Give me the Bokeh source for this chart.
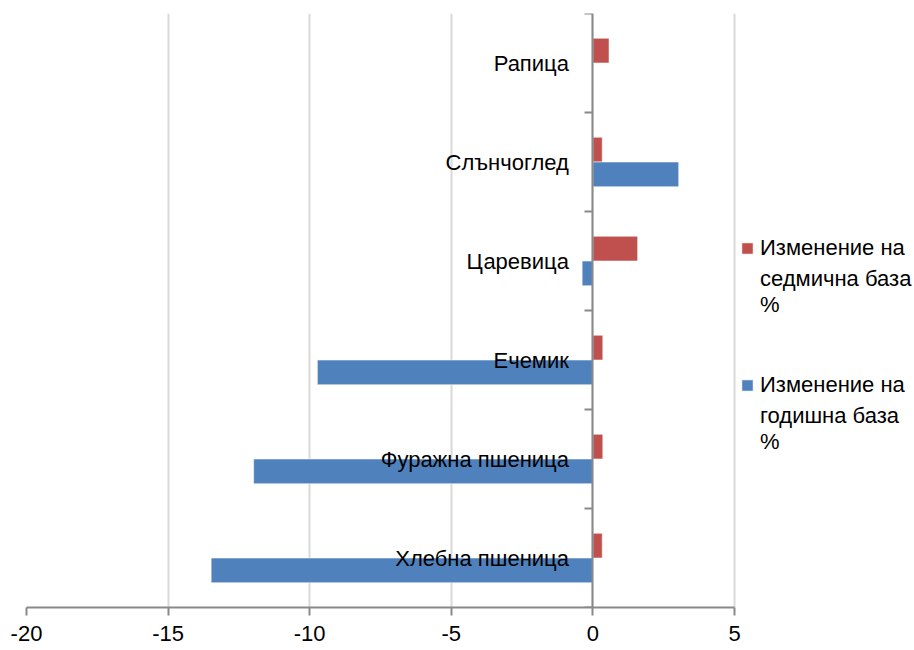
from bokeh.plotting import figure
from bokeh.models import Range1d, FixedTicker, Legend, LegendItem, ColumnDataSource
from bokeh.core.properties import value
from bokeh.transform import dodge
from bokeh.embed import file_html
from bokeh.resources import INLINE

categories = ["Рапица", "Слънчоглед", "Царевица", "Ечемик", "Фуражна пшеница", "Хлебна пшеница"]
weekly = [0.57, 0.33, 1.58, 0.35, 0.35, 0.33]
annual = [0.0, 3.03, -0.38, -9.73, -11.98, -13.48]
x_ticks = [-20, -15, -10, -5, 0, 5]
x_tick_labels = ["-20", "-15", "-10", "-5", "0", "5"]
series_first_line = ["Изменение на", "Изменение на"]
series_rest = ["седмична база\n%", "годишна база\n%"]
colors = ["#C0504D", "#4F81BD"]

FONT = "Liberation Sans"
n = len(categories)
ypos = [n - i - 0.5 for i in range(n)]
src = ColumnDataSource(dict(cat=categories, y=ypos, weekly=weekly, annual=annual))

# layout (pixels)
W, H = 914, 650
left, top, bottom = 26, 13, 43
axis_px = 708                      # pixels spanned by the axis from first to last tick
px_per_unit = axis_px / (x_ticks[-1] - x_ticks[0])
x_end = x_ticks[-1] + (W - left - axis_px) / px_per_unit   # extra room on the right for the legend

p = figure(width=W, height=H, x_range=Range1d(x_ticks[0], x_end), y_range=Range1d(0, n),
           output_backend="svg", toolbar_location=None,
           min_border_left=left, min_border_right=0, min_border_top=top, min_border_bottom=bottom)
p.outline_line_color = None

# x grid (below bars)
p.ygrid.visible = False
p.xgrid.ticker = FixedTicker(ticks=x_ticks)
p.xgrid.grid_line_color = "#D9D9D9"
p.xgrid.grid_line_width = 2

bar_h = 0.25
r_w = p.hbar(y=dodge('y', bar_h / 2), height=bar_h, left=0, right='weekly', source=src,
             fill_color=colors[0], line_color="white", line_alpha=0.55, line_width=1)
r_a = p.hbar(y=dodge('y', -bar_h / 2), height=bar_h, left=0, right='annual', source=src,
             fill_color=colors[1], line_color="white", line_alpha=0.55, line_width=1)

p.text(x=0, y='y', text='cat', source=src, x_offset=-24, text_align='right',
       text_baseline='middle', text_font=value(FONT), text_font_size='22px', text_color='black')

# x axis
xa = p.xaxis[0]
xa.bounds = (x_ticks[0], x_ticks[-1])
xa.ticker = FixedTicker(ticks=x_ticks)
xa.major_label_overrides = dict(zip(x_ticks, x_tick_labels))
xa.axis_line_color = "#898989"
xa.axis_line_width = 2
xa.major_tick_line_color = "#898989"
xa.major_tick_line_width = 2
xa.major_tick_out = 8
xa.major_tick_in = 0
xa.minor_tick_line_color = None
xa.major_label_text_font = FONT
xa.major_label_text_font_size = "22px"
xa.major_label_text_color = "black"
xa.major_label_standoff = 10

# y axis at zero
ya = p.yaxis[0]
ya.fixed_location = 0
ya.ticker = FixedTicker(ticks=list(range(n + 1)))
ya.major_label_overrides = {i: "" for i in range(n + 1)}
ya.axis_line_color = "#898989"
ya.axis_line_width = 2
ya.major_tick_line_color = "#898989"
ya.major_tick_line_width = 2
ya.major_tick_out = 8
ya.major_tick_in = 0
ya.minor_tick_line_color = None
ya.major_label_standoff = 0

legend_locs = [(714, 289), (714, 152)]
for r, first, rest, loc in zip([r_w, r_a], series_first_line, series_rest, legend_locs):
    lg = Legend(items=[LegendItem(label=first, renderers=[r]),
                       LegendItem(label=rest, renderers=[])],
                location=loc, orientation="vertical")
    lg.label_text_font = FONT
    lg.label_text_font_size = "22px"
    lg.label_text_color = "black"
    lg.label_text_line_height = 1.4
    lg.glyph_width = 14
    lg.glyph_height = 14
    lg.label_standoff = 6
    lg.padding = 0
    lg.margin = 0
    lg.spacing = 5
    lg.border_line_color = None
    lg.background_fill_alpha = 0
    p.add_layout(lg)

open("out.html", "w").write(file_html(p, INLINE))
